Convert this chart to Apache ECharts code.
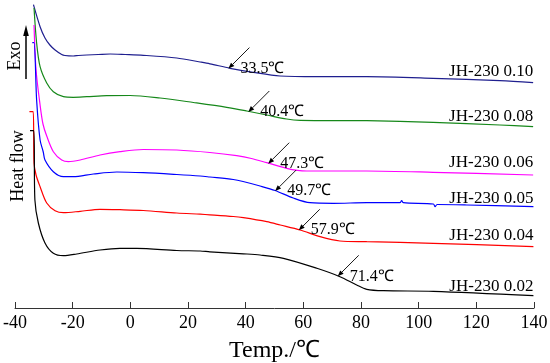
<!DOCTYPE html>
<html>
<head>
<meta charset="utf-8">
<script src="https://cdn.jsdelivr.net/npm/echarts@6/dist/echarts.min.js"></script>
<style>
html,body{margin:0;padding:0;background:#fff;}
#chart{width:550px;height:363px;}
</style>
</head>
<body>
<div id="chart"></div>
<script>
// ---- data (temperature in °C, heat flow in arbitrary stacked units) ----
const xTicks = [-40, -20, 0, 20, 40, 60, 80, 100, 120, 140];

const names = ['JH-230 0.10', 'JH-230 0.08', 'JH-230 0.06', 'JH-230 0.05', 'JH-230 0.04', 'JH-230 0.02'];
const colors = ['#1f1f8f', '#16881a', '#ff00ff', '#0000ff', '#ff0000', '#000000'];

const temp010 = [-33.6, -31.3, -29.6, -27.9, -26.1, -23.8, -22.7, -19.8, -18.0, -15.1, -11.1, -7.0, -1.8, 4.5, 16.1, 24.2, 27.6, 34.6, 42.6, 51.9, 64.7, 82.0, 105.0, 128.2, 139.7];
const heat010 = [303.3, 281.3, 270, 263, 258, 253.5, 252.5, 252, 252.5, 253, 253.5, 254, 253.5, 252.7, 250, 246, 244.2, 239.7, 235.7, 232, 231.3, 231.3, 229.7, 227.3, 225.3];

const temp008 = [-33.4, -32.5, -31.3, -29.0, -26.7, -23.2, -19.8, -15.1, -8.2, -0.1, 10.3, 21.9, 33.4, 40.4, 47.3, 54.2, 58.9, 82.0, 105.0, 128.2, 139.7];
const heat008 = [300, 265, 241.3, 225, 216.3, 211.3, 210.7, 211.3, 212.3, 212.5, 210, 205.5, 200.7, 197, 193, 189, 187.7, 187.3, 185.7, 183, 181.3];

const temp006 = [-33.4, -32.7, -31.3, -30.3, -29.0, -26.7, -23.8, -21.5, -17.4, -10.5, -3.6, 4.5, 16.1, 27.6, 36.9, 42.0, 47.3, 54.2, 58.0, 61.2, 82.0, 105.0, 139.7];
const heat006 = [283, 238, 203, 184, 172, 156.3, 148, 146.3, 148, 153, 156.3, 158.5, 158, 155.5, 152.3, 149.5, 145.3, 139.7, 137.6, 137, 137, 135.7, 133];

const temp005 = [-34.0, -33.4, -32.5, -31.3, -30.2, -29.6, -26.7, -23.2, -19.8, -12.8, -4.7, 4.5, 16.1, 24.2, 27.6, 35.7, 39.1, 45.0, 50.2, 56.5, 62.3, 70.4, 82.0, 93.5, 94.1, 94.7, 105.1, 105.7, 106.4, 116.7, 139.8];
const heat005 = [265.3, 265.3, 208, 168, 156, 148, 136.3, 131.3, 131.3, 134, 136, 135.3, 133.5, 132, 131, 128.5, 126.5, 122, 117.5, 110, 105.3, 104.7, 105.3, 105.3, 107.5, 105.3, 104, 101.3, 103.5, 103, 101.3];

const temp004 = [-35.0, -33.7, -33.4, -32.7, -31.3, -29.0, -26.1, -23.2, -17.4, -10.5, -3.6, 4.5, 16.1, 24.2, 27.6, 35.7, 39.2, 47.3, 52.0, 58.9, 65.8, 72.7, 82.0, 105.1, 139.8];
const heat004 = [196.3, 196.3, 145, 133, 121.3, 105, 97.3, 95.3, 96.7, 98.7, 98.3, 97.5, 95, 93.8, 93.2, 91.5, 90.3, 86.3, 83, 78, 71.3, 67, 66.3, 64.7, 61.3];

const temp002 = [-34.8, -33.5, -33.1, -31.9, -29.6, -26.7, -23.2, -18.6, -10.5, -3.6, 2.2, 16.1, 24.2, 27.6, 39.2, 45.0, 53.1, 64.7, 72.7, 78.5, 82.0, 87.8, 105.1, 139.8];
const heat002 = [177.3, 177.3, 108, 85, 65, 54.7, 52.3, 54, 58, 59.7, 59.7, 57.5, 57, 56.2, 54.2, 53, 49.7, 39.7, 31.3, 23, 18.7, 17.3, 16.7, 12.3];

const annotTemps = [33.5, 40.4, 47.3, 49.7, 57.9, 71.4];
const annotLabels = ['33.5℃', '40.4℃', '47.3℃', '49.7℃', '57.9℃', '71.4℃'];

const temps = [temp010, temp008, temp006, temp005, temp004, temp002];
const heats = [heat010, heat008, heat006, heat005, heat004, heat002];

// ---- chart ----
const FONT = '"Liberation Serif", "Times New Roman", serif';
const chart = echarts.init(document.getElementById('chart'), null, {renderer: 'canvas'});

const series = names.map((n, i) => ({
  name: n,
  type: 'line',
  data: temps[i].map((t, k) => [t, heats[i][k]]),
  showSymbol: false,
  smooth: 0.3,
  lineStyle: {color: colors[i], width: 1.2},
  itemStyle: {color: colors[i]},
  silent: true,
  animation: false
}));

chart.setOption({
  animation: false,
  backgroundColor: '#fff',
  grid: {left: 15, right: 16, top: 0, height: 308, containLabel: false, outerBoundsMode: 'none'},
  xAxis: {
    type: 'value', min: -40, max: 140, interval: 20,
    axisLine: {show: true, lineStyle: {color: '#333', width: 1}},
    axisTick: {show: true, inside: true, length: 6, lineStyle: {color: '#333'}},
    axisLabel: {
      color: '#000', fontFamily: FONT, fontSize: 18, margin: 6,
      formatter: v => xTicks.includes(v) ? String(v) : ''
    },
    splitLine: {show: false},
    name: 'Temp./℃', nameLocation: 'middle', nameGap: 31,
    nameTextStyle: {color: '#000', fontFamily: FONT, fontSize: 24}
  },
  yAxis: {type: 'value', min: 0, max: 308, show: false},
  series: series
});

function interp(ts, hs, t) {
  for (let k = 0; k < ts.length - 1; k++) {
    if (t >= ts[k] && t <= ts[k + 1]) {
      const f = (t - ts[k]) / (ts[k + 1] - ts[k]);
      return hs[k] + f * (hs[k + 1] - hs[k]);
    }
  }
  return hs[hs.length - 1];
}

const graphics = [];
// annotations with arrows
annotTemps.forEach((t, i) => {
  const v = interp(temps[i], heats[i], t);
  const p = chart.convertToPixel({gridIndex: 0}, [t, v]);
  const tip = [p[0] + 1.5, p[1] + 1];
  const tail = [tip[0] + 21, tip[1] - 21];
  const d = Math.SQRT1_2;
  const L = 6, W = 2.4;
  const base = [tip[0] + d * L, tip[1] - d * L];
  graphics.push({type: 'line', shape: {x1: tail[0], y1: tail[1], x2: base[0], y2: base[1]}, style: {stroke: '#000', lineWidth: 0.9}, silent: true, z: 10});
  graphics.push({type: 'polygon', shape: {points: [tip, [base[0] + d * W, base[1] + d * W], [base[0] - d * W, base[1] - d * W]]}, style: {fill: '#000'}, silent: true, z: 10});
  graphics.push({type: 'text', x: tip[0] + 12, y: tip[1], style: {text: annotLabels[i], font: '16px ' + FONT, fill: '#000', textVerticalAlign: 'middle', textAlign: 'left'}, silent: true, z: 10});
});

// series labels at the right end
const labelOffsets = [-11, -10, -12, -8, -11, -9];
names.forEach((n, i) => {
  const ts = temps[i], hs = heats[i];
  const p = chart.convertToPixel({gridIndex: 0}, [ts[ts.length - 1], hs[hs.length - 1]]);
  graphics.push({type: 'text', x: p[0], y: p[1] + labelOffsets[i], style: {text: n, font: '17px ' + FONT, fill: '#000', textAlign: 'right', textVerticalAlign: 'middle'}, silent: true});
});

// left y-axis caption
graphics.push({type: 'text', x: 18, y: 166, rotation: Math.PI / 2, style: {text: 'Heat flow', font: '18px ' + FONT, fill: '#000', textAlign: 'center', textVerticalAlign: 'middle'}, silent: true});
graphics.push({type: 'text', x: 15.5, y: 56, rotation: Math.PI / 2, style: {text: 'Exo', font: '18px ' + FONT, fill: '#000', textAlign: 'center', textVerticalAlign: 'middle'}, silent: true});
graphics.push({type: 'line', shape: {x1: 26, y1: 79, x2: 26, y2: 34}, style: {stroke: '#000', lineWidth: 1.5}, silent: true});
graphics.push({type: 'polygon', shape: {points: [[26, 25], [23.2, 36], [28.8, 36]]}, style: {fill: '#000'}, silent: true});

chart.setOption({graphic: graphics});
</script>
</body>
</html>
